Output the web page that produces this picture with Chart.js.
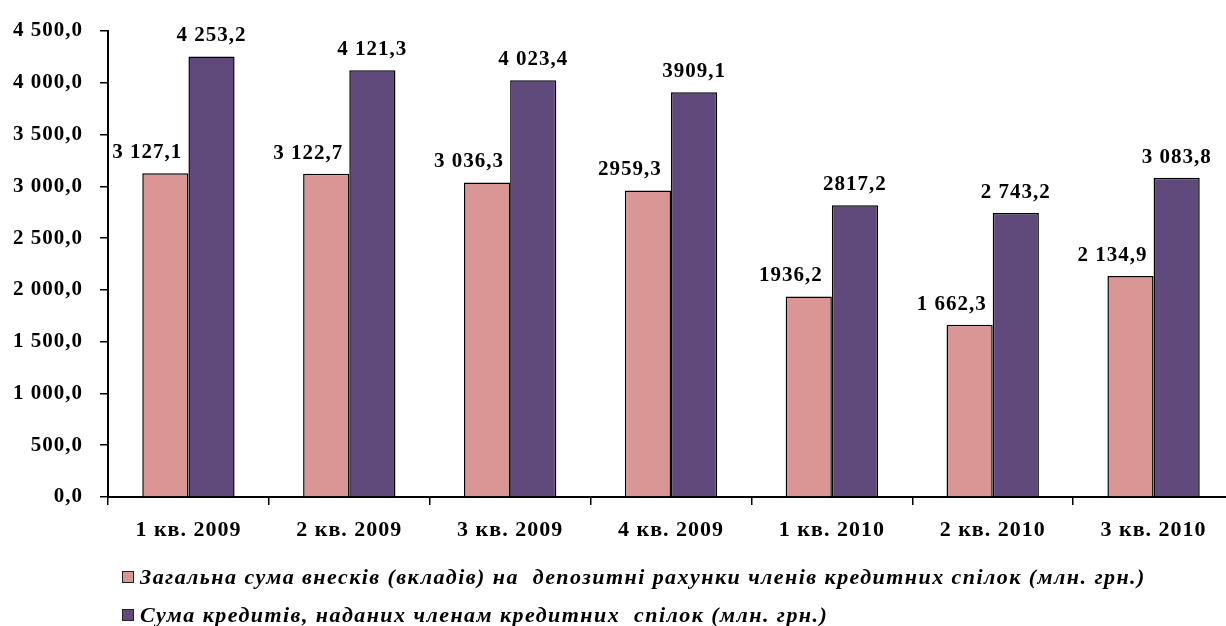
<!DOCTYPE html>
<html>
<head>
<meta charset="utf-8">
<script src="https://cdn.jsdelivr.net/npm/chart.js@4"></script>
<style>
    html, body { margin: 0; padding: 0; background: #fff; overflow: hidden; }
    #wrap { position: relative; width: 1250px; height: 626px; }
    #legend { position: absolute; left: 122px; top: 558px; font: italic bold 22px 'Liberation Serif', serif; letter-spacing: 1.45px; color: #000; }
    .legend-item { display: flex; align-items: center; height: 38px; white-space: pre; }
    .legend-box { width: 10px; height: 10px; border: 1px solid #222; margin-right: 6px; }
</style>
</head>
<body>
<div id="wrap">
    <canvas id="chart" width="1250" height="626"></canvas>
    <div id="legend"></div>
</div>
<script>
const categories = ['1 кв. 2009', '2 кв. 2009', '3 кв. 2009', '4 кв. 2009', '1 кв. 2010', '2 кв. 2010', '3 кв. 2010'];
const deposits = [3127.1, 3122.7, 3036.3, 2959.3, 1936.2, 1662.3, 2134.9];
const credits = [4253.2, 4121.3, 4023.4, 3909.1, 2817.2, 2743.2, 3083.8];
const depositLabels = ['3 127,1', '3 122,7', '3 036,3', '2959,3', '1936,2', '1 662,3', '2 134,9'];
const creditLabels = ['4 253,2', '4 121,3', '4 023,4', '3909,1', '2817,2', '2 743,2', '3 083,8'];
const seriesNames = [
    'Загальна сума внесків (вкладів) на  депозитні рахунки членів кредитних спілок (млн. грн.)',
    'Сума кредитів, наданих членам кредитних  спілок (млн. грн.)'
];

function formatNumber(v) {
    const parts = v.toFixed(1).split('.');
    const intPart = parts[0].replace(/\B(?=(\d{3})+(?!\d))/g, ' ');
    return intPart + ',' + parts[1];
}

// the original text is set wide, so space the glyphs out a little
const spacingPlugin = {
    id: 'spacing',
    beforeDraw(chart) {
        chart.ctx.letterSpacing = '1px';
    }
};

const valueLabelPlugin = {
    id: 'valueLabels',
    afterDatasetsDraw(chart) {
        const c = chart.ctx;
        const labelSets = [depositLabels, creditLabels];
        const shifts = [-18, 0];
        c.save();
        c.font = 'bold 21px "Liberation Serif", serif';
        c.fillStyle = '#000';
        c.textAlign = 'center';
        c.textBaseline = 'bottom';
        chart.data.datasets.forEach((ds, i) => {
            chart.getDatasetMeta(i).data.forEach((bar, j) => {
                c.fillText(labelSets[i][j], bar.x + shifts[i], bar.y - 10);
            });
        });
        c.restore();
    }
};

const colors = ['#d99694', '#604a7b'];

new Chart(document.getElementById('chart'), {
    type: 'bar',
    data: {
        labels: categories,
        datasets: [
            { label: seriesNames[0], data: deposits, backgroundColor: colors[0], borderColor: '#000', borderWidth: 1.5, borderSkipped: 'bottom' },
            { label: seriesNames[1], data: credits, backgroundColor: colors[1], borderColor: '#000', borderWidth: 1.5, borderSkipped: 'bottom' }
        ]
    },
    options: {
        responsive: false,
        animation: false,
        layout: { padding: { left: 8, right: 16, top: 31, bottom: 69 } },
        datasets: { bar: { categoryPercentage: 0.574, barPercentage: 1 } },
        plugins: {
            legend: { display: false },
            tooltip: { enabled: false }
        },
        scales: {
            y: {
                min: 0,
                max: 4500,
                afterFit: (s) => { s.width = 100; },
                border: { color: '#000', width: 2 },
                grid: { display: true, drawOnChartArea: false, color: '#000', lineWidth: 1.5, tickLength: 8 },
                ticks: {
                    stepSize: 500,
                    padding: 17,
                    color: '#000',
                    font: { family: 'Liberation Serif', weight: 'bold', size: 21 },
                    callback: (v) => formatNumber(v)
                }
            },
            x: {
                afterFit: (s) => { s.height = 60; },
                border: { color: '#000', width: 2 },
                grid: { display: true, drawOnChartArea: false, offset: true, color: '#000', lineWidth: 1.5, tickLength: 8 },
                ticks: {
                    padding: 12,
                    color: '#000',
                    maxRotation: 0,
                    font: { family: 'Liberation Serif', weight: 'bold', size: 22 }
                }
            }
        }
    },
    plugins: [spacingPlugin, valueLabelPlugin]
});

const legend = document.getElementById('legend');
seriesNames.forEach((name, i) => {
    const item = document.createElement('div');
    item.className = 'legend-item';
    item.innerHTML = `<div class="legend-box" style="background:${colors[i]}"></div><span>${name}</span>`;
    legend.appendChild(item);
});
</script>
</body>
</html>
